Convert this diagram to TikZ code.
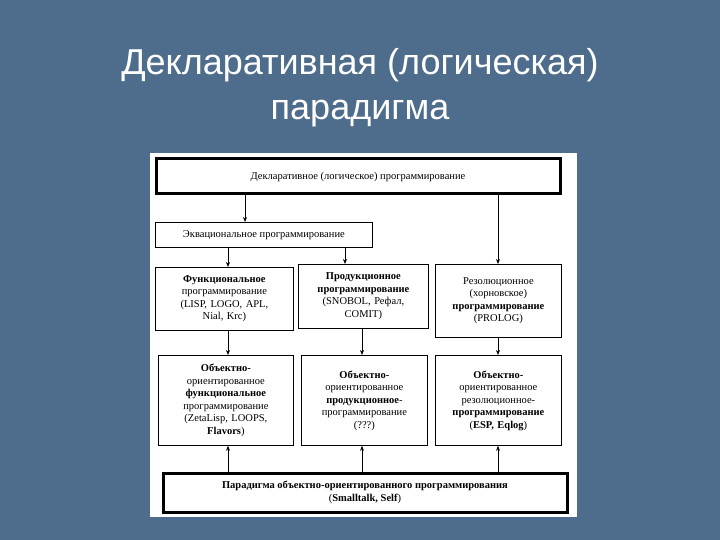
\documentclass[tikz,border=0pt]{standalone}
\usepackage{fontspec}
\setmainfont{Liberation Serif}
\newfontfamily\titlefont{Liberation Sans}
\usetikzlibrary{arrows.meta}
\definecolor{bg}{HTML}{4E6C8C}
\tikzset{
  box/.style={draw=black, line width=0.8pt, fill=white, align=center, font=\fontsize{10.5}{12.5}\selectfont, inner sep=1pt},
  thick box/.style={box, line width=3pt},
  arr/.style={-{Stealth[length=5pt,width=4pt]}, line width=0.7pt}
}
\begin{document}
\begin{tikzpicture}[x=1pt,y=-1pt]
\useasboundingbox (0,0) rectangle (720,540);
\fill[bg] (0,0) rectangle (720,540);
\node[text=white, font=\titlefont\fontsize{36}{45}\selectfont, align=center] (title) at (360,88) {Декларативная (логическая)\\парадигма};
\fill[white] (150,153) rectangle (577,517);
\node[thick box, minimum width=404pt, minimum height=35pt] (top) at (358,176.5) {Декларативное (логическое) программирование};
\node[box, minimum width=217pt, minimum height=25pt, anchor=north west] (eq) at (155,222) {Эквациональное программирование};
\node[box, minimum width=138pt, minimum height=63pt, anchor=north west, text width=134pt] (f1) at (155,267) {\textbf{Функциональное}\\программирование\\(LISP, LOGO, APL,\\Nial, Krc)};
\node[box, minimum width=130pt, minimum height=64pt, anchor=north west, text width=127pt] (p1) at (298,264) {\textbf{Продукционное}\\\textbf{программирование}\\(SNOBOL, Рефал,\\COMIT)};
\node[box, minimum width=126pt, minimum height=73pt, anchor=north west, text width=123pt] (r1) at (435,264) {Резолюционное\\(хорновское)\\\textbf{программирование}\\(PROLOG)};
\node[box, minimum width=135pt, minimum height=90pt, anchor=north west, text width=131pt] (f2) at (158,355) {\textbf{Объектно-}\\ориентированное\\\textbf{функциональное}\\программирование\\(ZetaLisp, LOOPS,\\\textbf{Flavors})};
\node[box, minimum width=126pt, minimum height=90pt, anchor=north west, text width=123pt] (p2) at (301,355) {\textbf{Объектно-}\\ориентированное\\\textbf{продукционное}-\\программирование\\(???)};
\node[box, minimum width=126pt, minimum height=90pt, anchor=north west, text width=123pt] (r2) at (435,355) {\textbf{Объектно-}\\ориентированное\\резолюционное-\\\textbf{программирование}\\(\textbf{ESP, Eqlog})};
\node[thick box, minimum width=404pt, minimum height=39pt] (bot) at (365,492.5) {\textbf{Парадигма объектно-ориентированного программирования}\\(\textbf{Smalltalk, Self})};
\draw[arr] (top.south -| 245,0) -- (eq.north -| 245,0);
\draw[arr] (top.south -| 498,0) -- (r1.north -| 498,0);
\draw[arr] (eq.south -| 228,0) -- (f1.north -| 228,0);
\draw[arr] (eq.south -| 345,0) -- (p1.north -| 345,0);
\draw[arr] (f1.south -| 228,0) -- (f2.north -| 228,0);
\draw[arr] (p1.south -| 362,0) -- (p2.north -| 362,0);
\draw[arr] (r1.south -| 498,0) -- (r2.north -| 498,0);
\draw[arr] (bot.north -| 228,0) -- (f2.south -| 228,0);
\draw[arr] (bot.north -| 362,0) -- (p2.south -| 362,0);
\draw[arr] (bot.north -| 498,0) -- (r2.south -| 498,0);
\end{tikzpicture}
\end{document}
